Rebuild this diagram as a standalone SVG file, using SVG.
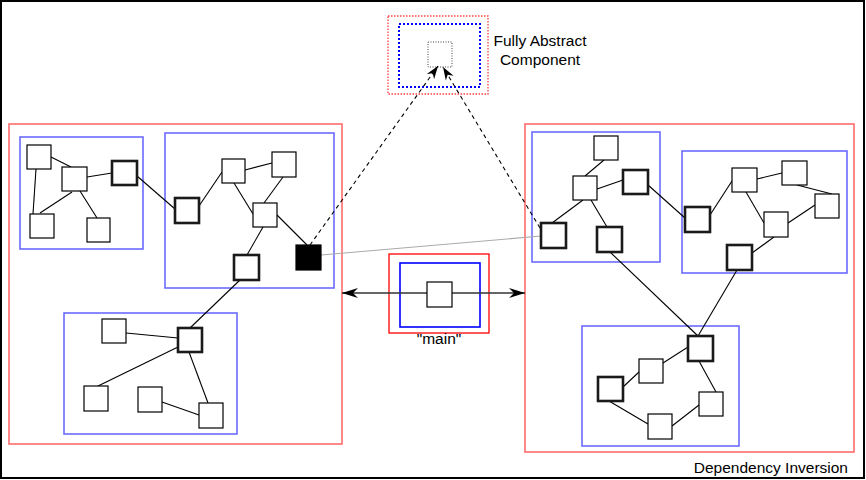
<svg xmlns="http://www.w3.org/2000/svg" width="866" height="480" viewBox="0 0 866 480">
<style>
.n{fill:#fff;stroke:#000;stroke-width:1.2}
.t{fill:#fff;stroke:#1a1a1a;stroke-width:2.6}
.k{fill:#000;stroke:#000;stroke-width:1.2}
.big{fill:none;stroke:#ff6b6b;stroke-width:1.6}
.mid{fill:none;stroke:#6b6bff;stroke-width:1.6}
.e{stroke:#000;stroke-width:1.1;fill:none}
.lbl{font-family:"Liberation Sans",Arial,sans-serif;font-size:15.5px;fill:#000}
</style>
<defs>
<marker id="ah" viewBox="-17 -6 18 12" refX="0" refY="0" markerWidth="18" markerHeight="12" markerUnits="userSpaceOnUse" orient="auto-start-reverse"><path d="M0,0 L-16,-5 L-11,0 L-16,5 z" fill="#000"/></marker>
<marker id="ad" viewBox="-14 -6 15 12" refX="0" refY="0" markerWidth="15" markerHeight="12" markerUnits="userSpaceOnUse" orient="auto"><path d="M0,0 L-13,-4.5 L-9,0 L-13,4.5 z" fill="#000"/></marker>
</defs>
<rect x="1" y="1" width="863" height="477" fill="#fff" stroke="#000" stroke-width="2"/>

<g id="abstract">
<rect x="388" y="16" width="100" height="78" fill="none" stroke="#ff4040" stroke-width="1.3" stroke-dasharray="1.5 1.5"/>
<rect x="399" y="24" width="81" height="63" fill="none" stroke="#0000ff" stroke-width="2" stroke-dasharray="2 2"/>
<rect x="428" y="42" width="24" height="25" fill="none" stroke="#444" stroke-width="1" stroke-dasharray="1 1.5"/>
<text class="lbl" x="540" y="46" text-anchor="middle">Fully Abstract</text>
<text class="lbl" x="540" y="65" text-anchor="middle">Component</text>
</g>

<g id="left-component"><rect class="big" x="9" y="124" width="333" height="320"/></g>
<g id="left-a"><rect class="mid" x="20" y="137" width="123" height="112"/></g>
<g id="left-b"><rect class="mid" x="165" y="133" width="169" height="155"/></g>
<g id="left-c"><rect class="mid" x="64" y="313" width="173" height="121"/></g>
<g id="right-component"><rect class="big" x="525" y="124" width="329" height="328"/></g>
<g id="right-d"><rect class="mid" x="532" y="132" width="128" height="130"/></g>
<g id="right-e"><rect class="mid" x="682" y="151" width="165" height="122"/></g>
<g id="right-f"><rect class="mid" x="582" y="326" width="157" height="120"/></g>
<g id="main-box">
<rect x="389" y="254" width="100" height="79" fill="none" stroke="#ff0000" stroke-width="1.3"/>
<rect x="400" y="263" width="80" height="64" fill="none" stroke="#0000ff" stroke-width="1.6"/>
<text class="lbl" x="439" y="344" text-anchor="middle">"main"</text>
</g>

<g id="connectors">
<line class="e" x1="51" y1="157" x2="71" y2="167"/>
<line class="e" x1="36" y1="169" x2="33" y2="214"/>
<line class="e" x1="72" y1="192" x2="40" y2="213"/>
<line class="e" x1="80" y1="191" x2="97" y2="218"/>
<line class="e" x1="87" y1="177" x2="112" y2="173"/>
<line class="e" x1="137" y1="176" x2="175" y2="209"/>
<line class="e" x1="199" y1="206" x2="222" y2="172"/>
<line class="e" x1="245" y1="170" x2="272" y2="163"/>
<line class="e" x1="234" y1="183" x2="253" y2="214"/>
<line class="e" x1="283" y1="177" x2="264" y2="203"/>
<line class="e" x1="263" y1="227" x2="247" y2="255"/>
<line class="e" x1="277" y1="215" x2="307" y2="245"/>
<line class="e" x1="240" y1="280" x2="190" y2="328"/>
<line class="e" x1="126" y1="333" x2="178" y2="338"/>
<line class="e" x1="178" y1="347" x2="98" y2="386"/>
<line class="e" x1="189" y1="352" x2="208" y2="403"/>
<line class="e" x1="162" y1="402" x2="199" y2="415"/>
<line class="e" x1="604" y1="160" x2="585" y2="176"/>
<line class="e" x1="597" y1="189" x2="623" y2="180"/>
<line class="e" x1="583" y1="200" x2="552" y2="223"/>
<line class="e" x1="591" y1="200" x2="607" y2="227"/>
<line class="e" x1="648" y1="185" x2="685" y2="218"/>
<line class="e" x1="610" y1="252" x2="698" y2="336"/>
<line class="e" x1="737" y1="270" x2="698" y2="336"/>
<line class="e" x1="710" y1="215" x2="732" y2="181"/>
<line class="e" x1="757" y1="179" x2="782" y2="173"/>
<line class="e" x1="797" y1="185" x2="832" y2="194"/>
<line class="e" x1="746" y1="192" x2="764" y2="223"/>
<line class="e" x1="788" y1="223" x2="815" y2="205"/>
<line class="e" x1="774" y1="237" x2="752" y2="253"/>
<line class="e" x1="688" y1="347" x2="663" y2="363"/>
<line class="e" x1="639" y1="372" x2="623" y2="387"/>
<line class="e" x1="609" y1="401" x2="648" y2="424"/>
<line class="e" x1="672" y1="426" x2="699" y2="405"/>
<line class="e" x1="699" y1="361" x2="716" y2="392"/>
<line x1="321" y1="255" x2="541" y2="236" stroke="#aaa" stroke-width="1.1"/>
<line class="e" x1="310" y1="245" x2="438" y2="66" stroke-dasharray="4 3.5" marker-end="url(#ad)"/>
<line class="e" x1="540" y1="228" x2="443" y2="67" stroke-dasharray="4 3.5" marker-end="url(#ad)"/>
<line x1="342" y1="293" x2="525" y2="293" stroke="#333" stroke-width="1.3" marker-start="url(#ah)" marker-end="url(#ah)"/>
</g>

<g id="n1"><rect class="n" x="27" y="145" width="24" height="24"/></g>
<g id="n2"><rect class="n" x="62" y="167" width="25" height="24"/></g>
<g id="n3"><rect class="t" x="112" y="161" width="25" height="24"/></g>
<g id="n4"><rect class="n" x="30" y="214" width="24" height="24"/></g>
<g id="n5"><rect class="n" x="87" y="218" width="23" height="24"/></g>
<g id="b1"><rect class="t" x="175" y="198" width="24" height="25"/></g>
<g id="b2"><rect class="n" x="222" y="159" width="23" height="24"/></g>
<g id="b3"><rect class="n" x="272" y="152" width="24" height="25"/></g>
<g id="b4"><rect class="n" x="253" y="203" width="24" height="24"/></g>
<g id="b5"><rect class="t" x="234" y="255" width="25" height="25"/></g>
<g id="b6"><rect class="k" x="296" y="245" width="25" height="25"/></g>
<g id="c1"><rect class="n" x="102" y="319" width="24" height="24"/></g>
<g id="c2"><rect class="t" x="178" y="328" width="24" height="24"/></g>
<g id="c3"><rect class="n" x="84" y="386" width="24" height="25"/></g>
<g id="c4"><rect class="n" x="138" y="387" width="24" height="25"/></g>
<g id="c5"><rect class="n" x="199" y="403" width="24" height="25"/></g>
<g id="d1"><rect class="n" x="594" y="136" width="24" height="24"/></g>
<g id="d2"><rect class="n" x="573" y="176" width="24" height="24"/></g>
<g id="d3"><rect class="t" x="623" y="170" width="25" height="24"/></g>
<g id="d4"><rect class="t" x="541" y="223" width="25" height="25"/></g>
<g id="d5"><rect class="t" x="597" y="227" width="25" height="25"/></g>
<g id="e1"><rect class="t" x="685" y="207" width="25" height="25"/></g>
<g id="e2"><rect class="n" x="732" y="168" width="25" height="24"/></g>
<g id="e3"><rect class="n" x="782" y="161" width="25" height="24"/></g>
<g id="e4"><rect class="n" x="764" y="212" width="24" height="25"/></g>
<g id="e5"><rect class="n" x="815" y="194" width="24" height="24"/></g>
<g id="e6"><rect class="t" x="727" y="245" width="25" height="25"/></g>
<g id="f1"><rect class="t" x="688" y="336" width="25" height="25"/></g>
<g id="f2"><rect class="n" x="639" y="359" width="24" height="24"/></g>
<g id="f3"><rect class="t" x="598" y="377" width="25" height="24"/></g>
<g id="f4"><rect class="n" x="699" y="392" width="24" height="24"/></g>
<g id="f5"><rect class="n" x="648" y="414" width="24" height="25"/></g>
<g id="main-node"><rect class="n" x="427" y="282" width="25" height="25"/></g>

<text class="lbl" x="848" y="473" text-anchor="end">Dependency Inversion</text>
</svg>
